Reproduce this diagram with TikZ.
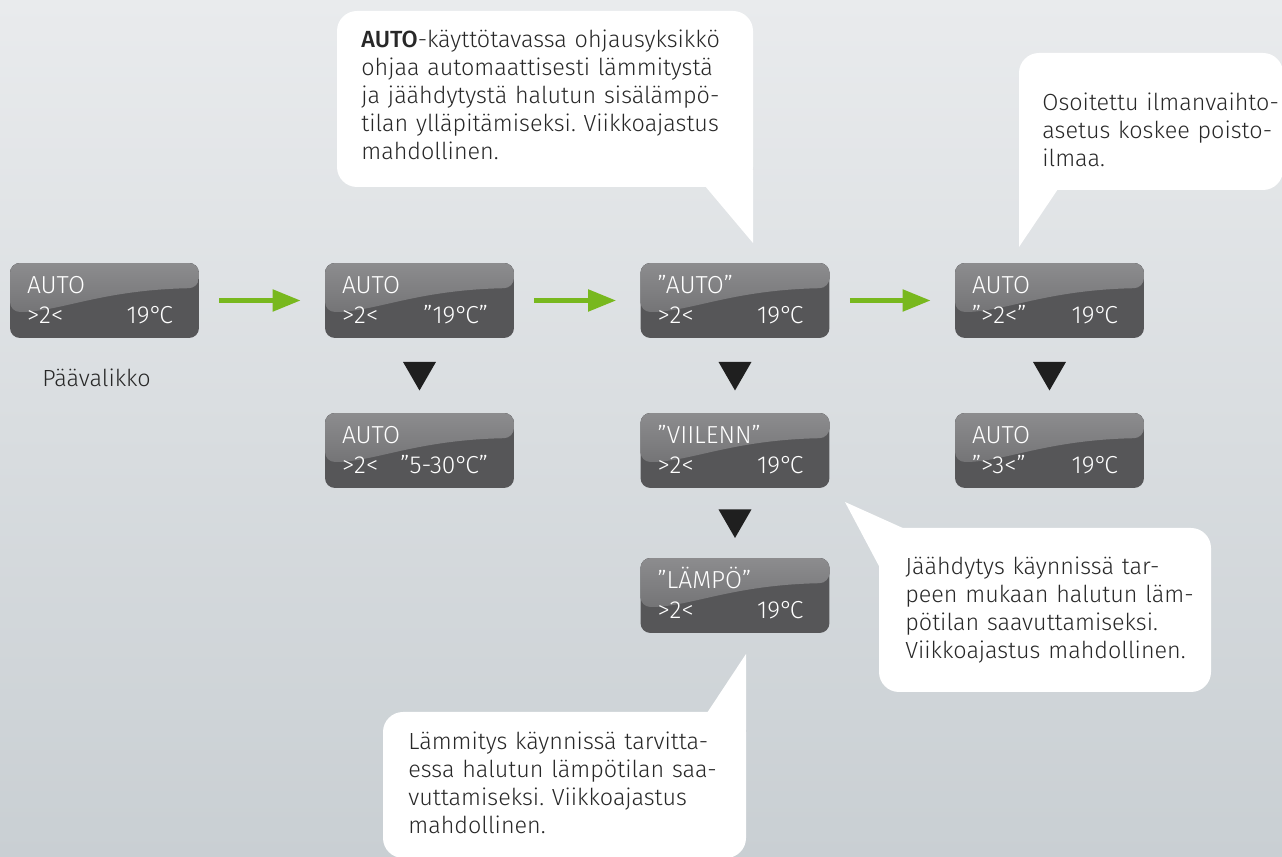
\documentclass[tikz,border=0pt]{standalone}
\usepackage{fontspec}
\setmainfont{Fira Sans}[UprightFont=* Light, BoldFont=* Medium]
\usetikzlibrary{arrows.meta,shapes.geometric,calc}
\frenchspacing

\definecolor{bgtop}{RGB}{233,235,237}
\definecolor{bgbottom}{RGB}{201,207,211}
\definecolor{boxdark}{RGB}{86,86,88}
\definecolor{boxtop}{RGB}{140,140,142}
\definecolor{boxmid}{RGB}{104,104,106}
\definecolor{flowgreen}{RGB}{120,184,30}
\definecolor{textdark}{RGB}{40,40,40}

\newcommand{\degC}{°\kern-0.12em C}

\tikzset{
  display/.style={rounded corners=0.2cm, fill=boxdark, minimum width=3.78cm,
    minimum height=1.5cm, inner sep=0pt,
    path picture={
      \fill[top color=boxtop, bottom color=boxmid]
        (path picture bounding box.north west) -- (path picture bounding box.north east)
        -- ([yshift=-0.5cm]path picture bounding box.north east)
        .. controls ([xshift=-1.98cm,yshift=-0.54cm]path picture bounding box.north east)
        and ([xshift=1cm,yshift=-0.98cm]path picture bounding box.north west)
        .. ([yshift=-0.98cm]path picture bounding box.north west) -- cycle;
    }},
  disptext/.style={text=white, inner sep=0pt, font=\fontsize{14}{16}\selectfont},
  flow/.style={draw=flowgreen, line width=0.1cm,
    -{Triangle[length=0.56cm, width=0.42cm]},
    shorten <=0.4cm, shorten >=0.48cm},
  downmark/.style={regular polygon, regular polygon sides=3, shape border rotate=180,
    fill=black!88, minimum size=0.76cm, inner sep=0pt, yshift=0.08cm},
  bubble/.style={fill=white, rounded corners=0.4cm},
  bubbletext/.style={text=textdark, inner sep=0pt, anchor=base west, text width=8.4cm,
    align=left, font=\fontsize{13.3}{15.9}\selectfont}
}

\begin{document}
\begin{tikzpicture}[x=0.02cm, y=-0.02cm]

    % Background
    \shade[top color=bgtop, bottom color=bgbottom] (0,0) rectangle (1282,857);
    \useasboundingbox (0,0) rectangle (1282,857);

    % Draw the displays
    \foreach \n/\pos/\up/\left/\right in {
        paa/{104.5,300.5}/AUTO/{>2<}/19\degC,
        temp/{419.5,300.5}/AUTO/{>2<}/"19\degC",
        mode/{735,300.5}/"AUTO"/{>2<}/19\degC,
        vent/{1049.5,300.5}/AUTO/{">2<"}/19\degC,
        range/{419.5,450.5}/AUTO/{>2<}/"5-30\degC",
        cool/{735,450.5}/"VIILENN"/{>2<}/19\degC,
        ventset/{1049.5,450.5}/AUTO/{">3<"}/19\degC,
        heat/{735,595.5}/"LÄMPÖ"/{>2<}/19\degC}{
      \node[display] (\n) at (\pos) {};
      \node[disptext, anchor=base west] at ([shift={(17,-6.5)}]\n.west) {\up};
      \node[disptext, anchor=base west] at ([shift={(17,23.5)}]\n.west) {\left};
      \node[disptext, anchor=base east] at ([shift={(-26,23.5)}]\n.east) {\right};
    }

    % Label under the main menu
    \node[text=textdark, inner sep=0pt, anchor=base west, font=\fontsize{13.3}{15.9}\selectfont]
      (paalabel) at (42,387) {Päävalikko};

    % Green arrows along the top row
    \draw[flow] (paa) -- (temp);
    \draw[flow] (temp) -- (mode);
    \draw[flow] (mode) -- (vent);

    % Down marks between the rows
    \node[downmark] (m1) at ($(temp.south)!0.5!(range.north)$) {};
    \node[downmark] (m2) at ($(mode.south)!0.5!(cool.north)$) {};
    \node[downmark] (m3) at ($(cool.south)!0.5!(heat.north)$) {};
    \node[downmark] (m4) at ($(vent.south)!0.5!(ventset.north)$) {};

    % Callout for the AUTO mode
    \fill[bubble] (337,11) rectangle (753,187);
    \fill[white] (705,186) -- (753,243) -- (753,170) -- cycle;
    \node[bubbletext] (autonote) at (361,48)
      {\textbf{AUTO}-käyttötavassa ohjausyksikkö\\
       ohjaa automaattisesti lämmitystä\\
       ja jäähdytystä halutun sisälämpö-\\
       tilan ylläpitämiseksi. Viikkoajastus\\
       mahdollinen.};

    % Callout for the ventilation setting
    \fill[bubble] (1019,53) rectangle (1283,190);
    \fill[white] (1019,170) -- (1019,247) -- (1058,189) -- cycle;
    \node[bubbletext] (ventnote) at (1042,111)
      {Osoitettu ilmanvaihto-\\
       asetus koskee poisto-\\
       ilmaa.};

    % Callout for cooling
    \fill[bubble] (879,528) rectangle (1211,692);
    \fill[white] (845,502) -- (905,529) -- (880,568) -- cycle;
    \node[bubbletext] (coolnote) at (905,575)
      {Jäähdytys käynnissä tar-\\
       peen mukaan halutun läm-\\
       pötilan saavuttamiseksi.\\
       Viikkoajastus mahdollinen.};

    % Callout for heating
    \fill[bubble] (383,712) rectangle (746,858);
    \fill[white] (746,654) -- (746,730) -- (707,713) -- cycle;
    \node[bubbletext] (heatnote) at (408,750)
      {Lämmitys käynnissä tarvitta-\\
       essa halutun lämpötilan saa-\\
       vuttamiseksi. Viikkoajastus\\
       mahdollinen.};

\end{tikzpicture}
\end{document}
